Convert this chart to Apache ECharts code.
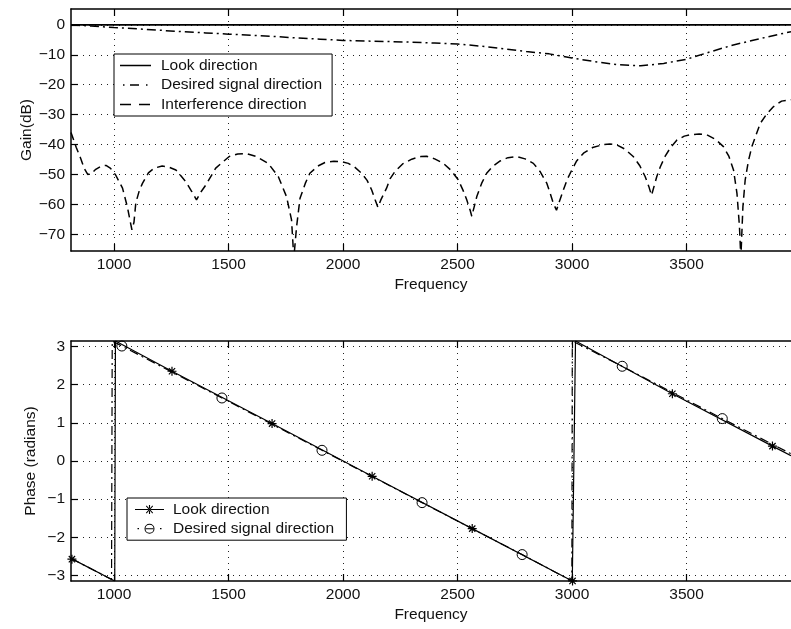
<!DOCTYPE html>
<html>
<head>
<meta charset="utf-8">
<script src="https://cdn.jsdelivr.net/npm/echarts@6/dist/echarts.min.js"></script>
<style>
html,body{margin:0;padding:0;background:#fff;}
#chart{width:791px;height:629px;}
</style>
</head>
<body>
<div id="chart"></div>
<script>
// ---------- Data ----------
const freqTicks = [1000, 1500, 2000, 2500, 3000, 3500];
const gainTicks = [-70, -60, -50, -40, -30, -20, -10, 0];
const phaseTicks = [-3, -2, -1, 0, 1, 2, 3];

// Top plot: gain (dB)
const lookGainFreq = [812, 3956];
const lookGain = [0, 0];

const desiredGainFreq = [812, 900, 1000, 1100, 1200, 1300, 1400, 1500, 1600, 1700, 1800, 1900, 2000, 2100, 2200, 2300, 2400, 2500, 2600, 2700, 2800, 2900, 3000, 3100, 3200, 3300, 3400, 3500, 3600, 3700, 3800, 3900, 3956];
const desiredGain = [0, -0.4, -0.9, -1.3, -1.8, -2.3, -2.7, -3.1, -3.5, -3.9, -4.4, -4.8, -5.2, -5.4, -5.6, -5.8, -6.1, -6.4, -7.1, -8.0, -8.9, -9.7, -11.1, -12.3, -13.3, -13.7, -12.9, -11.5, -9.1, -6.8, -5.0, -3.2, -2.3];

const interfFreq = [812, 835, 854, 870, 885, 900, 920, 945, 965, 985, 1007, 1037, 1058, 1070, 1078, 1087, 1095, 1110, 1124, 1150, 1175, 1210, 1240, 1270, 1313, 1340, 1360, 1380, 1401, 1444, 1503, 1540, 1575, 1620, 1673, 1717, 1753, 1775, 1785, 1797, 1812, 1835, 1855, 1890, 1921, 1960, 1994, 2023, 2050, 2081, 2105, 2125, 2140, 2152, 2165, 2190, 2205, 2227, 2260, 2300, 2340, 2365, 2400, 2438, 2470, 2503, 2525, 2540, 2555, 2562, 2572, 2584, 2605, 2627, 2655, 2686, 2720, 2758, 2795, 2831, 2860, 2890, 2905, 2918, 2932, 2945, 2962, 2980, 2999, 3020, 3050, 3090, 3137, 3165, 3195, 3230, 3267, 3295, 3319, 3335, 3347, 3358, 3370, 3385, 3406, 3430, 3458, 3490, 3520, 3555, 3589, 3625, 3661, 3685, 3705, 3720, 3731, 3737, 3746, 3756, 3770, 3785, 3800, 3822, 3850, 3880, 3915, 3956];
const interfGain = [-36, -41, -44.6, -48, -50, -49.8, -48.3, -47.2, -47, -48, -50.2, -54.6, -60.8, -65.5, -68.5, -66, -59.5, -55.5, -53, -49.5, -47.9, -47.2, -47.6, -48.5, -52.4, -55.8, -58.5, -55.8, -53.5, -47.9, -44, -43.2, -43, -44, -46.3, -50.7, -57.4, -65.2, -78, -67.5, -58, -53, -49.6, -47.2, -46, -45.6, -45.7, -46.3, -47.5, -49.6, -52, -55.2, -58.5, -61, -58.5, -54.6, -51.5, -49, -46.5, -44.9, -44, -43.9, -44.8, -46.3, -48.5, -51.8, -55.5, -58.5, -62, -64, -61, -57.4, -53, -49.6, -47.2, -45.5, -44.4, -44, -44.8, -46.3, -49, -53, -56.5, -59.6, -62, -59, -55.2, -51.5, -48.5, -45.5, -42.9, -41, -40, -39.8, -40.1, -41.5, -44, -47, -50.7, -54, -57, -54, -50.7, -47.5, -44, -41, -38.5, -37.2, -36.7, -36.5, -36.8, -38.2, -40.7, -44, -48.5, -56.3, -67.5, -78, -60.8, -51.8, -45.5, -40.7, -37.5, -32.9, -29.8, -27.3, -25.5, -25];

// Bottom plot: phase (radians)
const lookPhaseLineFreq = [812, 1003, 1006, 3001, 3015, 3956];
const lookPhaseLine = [-2.55, -3.14, 3.14, -3.14, 3.14, 0.14];
const lookMarkerFreq = [816, 1253, 1690, 2127, 2564, 3002, 3438, 3875];
const lookMarkerPhase = [-2.57, 2.35, 0.98, -0.40, -1.77, -3.14, 1.76, 0.39];

const desiredPhaseLineFreq = [812, 989, 992, 2999, 3001, 3956];
const desiredPhaseLine = [-2.55, -3.10, 3.14, -3.14, 3.14, 0.19];
const desiredMarkerFreq = [1034, 1471, 1908, 2345, 2782, 3219, 3656];
const desiredMarkerPhase = [3.01, 1.65, 0.28, -1.09, -2.45, 2.48, 1.11];

// ---------- Build ----------
const zip = (a, b) => a.map((v, i) => [v, b[i]]);
function lineWithMarkers(lf, lv, mf, mv) {
  const pts = zip(lf, lv).map(p => ({ value: p, symbol: 'none' }))
    .concat(zip(mf, mv).map(p => ({ value: p })));
  pts.sort((a, b) => a.value[0] - b.value[0]);
  return pts;
}

const FONT = "'Liberation Sans', Arial, Helvetica, sans-serif";
const FS = 15.5;
const TXT = '#111';
const minus = v => String(v).replace('-', '\u2212');
const XMIN = 812, XMAX = 3956;

// legend icon helpers (box W x 14)
function rect(x0, x1, y0, y1) { return `M${x0},${y0}L${x1},${y0}L${x1},${y1}L${x0},${y1}Z`; }
function bounds(W) { return `M0,0L0.01,0L0,0.01Z M${W},14L${W - 0.01},14L${W},13.99Z`; }
const TW = 31;
const iconSolid = 'path://' + bounds(TW) + rect(0, TW, 6.25, 7.75);
const iconDashDot = 'path://' + bounds(TW) + rect(3, 4.5, 6.25, 7.75) + rect(10, 19, 6.25, 7.75) + rect(26, 27.5, 6.25, 7.75);
const iconDashed = 'path://' + bounds(TW) + rect(0, 11, 6.25, 7.75) + rect(19, 30, 6.25, 7.75);
const BW = 29, cx = 14.5;
const iconCircle = 'path://' + bounds(BW) + rect(2.5, 4, 6.4, 7.6) + rect(25, 26.5, 6.4, 7.6) +
  `M${cx + 5},7A5,5 0 1 0 ${cx - 5},7A5,5 0 1 0 ${cx + 5},7Z M${cx + 4},7A4,4 0 1 1 ${cx - 4},7A4,4 0 1 1 ${cx + 4},7Z` +
  rect(cx - 4.2, cx + 4.2, 6.5, 7.5);
const iconStar = 'path://' + bounds(BW) + rect(0, BW, 6.45, 7.55) +
  rect(cx - 0.55, cx + 0.55, 2.5, 11.5) +
  `M${cx - 3.6},${3.7}L${cx - 2.9},${3.0}L${cx + 3.6},${10.3}L${cx + 2.9},${11.0}Z` +
  `M${cx + 3.6},${3.7}L${cx + 2.9},${3.0}L${cx - 3.6},${10.3}L${cx - 2.9},${11.0}Z`;

function xAxisPair(gi) {
  return [{
    gridIndex: gi, type: 'value', min: XMIN, max: XMAX, position: 'bottom',
    axisLine: { show: true, onZero: false, lineStyle: { color: '#000', width: 1.5 } },
    axisTick: { show: true, inside: true, length: 7, customValues: freqTicks, lineStyle: { color: '#000', width: 1.2 } },
    axisLabel: { show: true, customValues: freqTicks, color: TXT, fontFamily: FONT, fontSize: FS, margin: 6, formatter: minus },
    splitLine: { show: true, lineStyle: { color: '#222', width: 1, type: [1, 5] } },
    name: 'Frequency', nameLocation: 'middle', nameGap: 26, nameMoveOverlap: false,
    nameTextStyle: { color: TXT, fontFamily: FONT, fontSize: FS }
  }, {
    gridIndex: gi, type: 'value', min: XMIN, max: XMAX, position: 'top',
    axisLine: { show: true, onZero: false, lineStyle: { color: '#000', width: 1.5 } },
    axisTick: { show: true, inside: true, length: 7, customValues: freqTicks, lineStyle: { color: '#000', width: 1.2 } },
    axisLabel: { show: false },
    splitLine: { show: false }
  }];
}

function yAxis(gi, min, max, ticks, name, gap) {
  return {
    gridIndex: gi, type: 'value', min: min, max: max,
    axisLine: { show: true, onZero: false, lineStyle: { color: '#000', width: 1.5 } },
    axisTick: { show: true, inside: true, length: 7, customValues: ticks, lineStyle: { color: '#000', width: 1.2 } },
    axisLabel: { show: true, customValues: ticks, color: TXT, fontFamily: FONT, fontSize: FS, margin: 6, formatter: minus },
    splitLine: { show: true, lineStyle: { color: '#222', width: 1, type: [1, 5] } },
    name: name, nameLocation: 'middle', nameGap: gap, nameMoveOverlap: false,
    nameTextStyle: { color: TXT, fontFamily: FONT, fontSize: FS }
  };
}

const DASHDOT = [9, 4, 2, 4];
const DASHED = [8, 5];

const option = {
  animation: false,
  backgroundColor: '#fff',
  grid: [
    { left: 71, top: 9, right: 0, height: 242 },
    { left: 71, top: 341, right: 0, height: 240 }
  ],
  xAxis: xAxisPair(0).concat(xAxisPair(1)),
  yAxis: [
    yAxis(0, -75.6, 5.3, gainTicks, 'Gain(dB)', 36),
    yAxis(1, -Math.PI, Math.PI, phaseTicks, 'Phase (radians)', 32)
  ],
  legend: [{
    orient: 'vertical', left: 114, top: 54,
    symbolKeepAspect: false,
    data: [
      { name: 'Look direction', icon: iconSolid },
      { name: 'Desired signal direction', icon: iconDashDot },
      { name: 'Interference direction', icon: iconDashed }
    ],
    itemStyle: { color: '#000', borderWidth: 0 },
    backgroundColor: '#fff', borderColor: '#000', borderWidth: 1,
    padding: [3.5, 10, 3.5, 6], itemWidth: TW, itemHeight: 14, itemGap: 3.5,
    textStyle: { color: TXT, fontFamily: FONT, fontSize: FS, padding: [0, 0, 0, 5] },
    selectedMode: false
  }, {
    orient: 'vertical', left: 127, top: 498,
    symbolKeepAspect: false,
    data: [
      { name: 'Look direction ', icon: iconStar },
      { name: 'Desired signal direction ', icon: iconCircle }
    ],
    itemStyle: { color: '#000', borderWidth: 0 },
    backgroundColor: '#fff', borderColor: '#000', borderWidth: 1,
    padding: [3.5, 8, 3.5, 8], itemWidth: BW, itemHeight: 14, itemGap: 3.2,
    textStyle: { color: TXT, fontFamily: FONT, fontSize: FS, padding: [0, 0, 0, 4] },
    selectedMode: false
  }],
  series: [
    {
      name: 'Look direction', type: 'line', xAxisIndex: 0, yAxisIndex: 0,
      data: zip(lookGainFreq, lookGain), symbol: 'none',
      lineStyle: { color: '#000', width: 1.6, type: 'solid' }, itemStyle: { color: '#000' }
    },
    {
      name: 'Desired signal direction', type: 'line', xAxisIndex: 0, yAxisIndex: 0,
      data: zip(desiredGainFreq, desiredGain), symbol: 'none',
      lineStyle: { color: '#000', width: 1.5, type: DASHDOT }, itemStyle: { color: '#000' }
    },
    {
      name: 'Interference direction', type: 'line', xAxisIndex: 0, yAxisIndex: 0,
      data: zip(interfFreq, interfGain), symbol: 'none', clip: true,
      lineStyle: { color: '#000', width: 1.5, type: DASHED }, itemStyle: { color: '#000' }
    },
    {
      name: 'Look direction ', type: 'line', xAxisIndex: 2, yAxisIndex: 1,
      data: lineWithMarkers(lookPhaseLineFreq, lookPhaseLine, lookMarkerFreq, lookMarkerPhase),
      symbol: 'path://M5,0L5,10M0,5L10,5M1.5,1.5L8.5,8.5M1.5,8.5L8.5,1.5', symbolSize: 9, showSymbol: true,
      lineStyle: { color: '#000', width: 1.2, type: 'solid' },
      itemStyle: { color: '#000', borderColor: '#000', borderWidth: 1.2 }, z: 3
    },
    {
      name: 'Desired signal direction ', type: 'line', xAxisIndex: 2, yAxisIndex: 1,
      data: lineWithMarkers(desiredPhaseLineFreq, desiredPhaseLine, desiredMarkerFreq, desiredMarkerPhase),
      symbol: 'circle', symbolSize: 10, showSymbol: true,
      lineStyle: { color: '#000', width: 1.2, type: DASHDOT },
      itemStyle: { color: 'rgba(0,0,0,0)', borderColor: '#000', borderWidth: 1 }, z: 2
    }
  ]
};

const chart = echarts.init(document.getElementById('chart'), null, { renderer: 'canvas' });
chart.setOption(option);
</script>
</body>
</html>
